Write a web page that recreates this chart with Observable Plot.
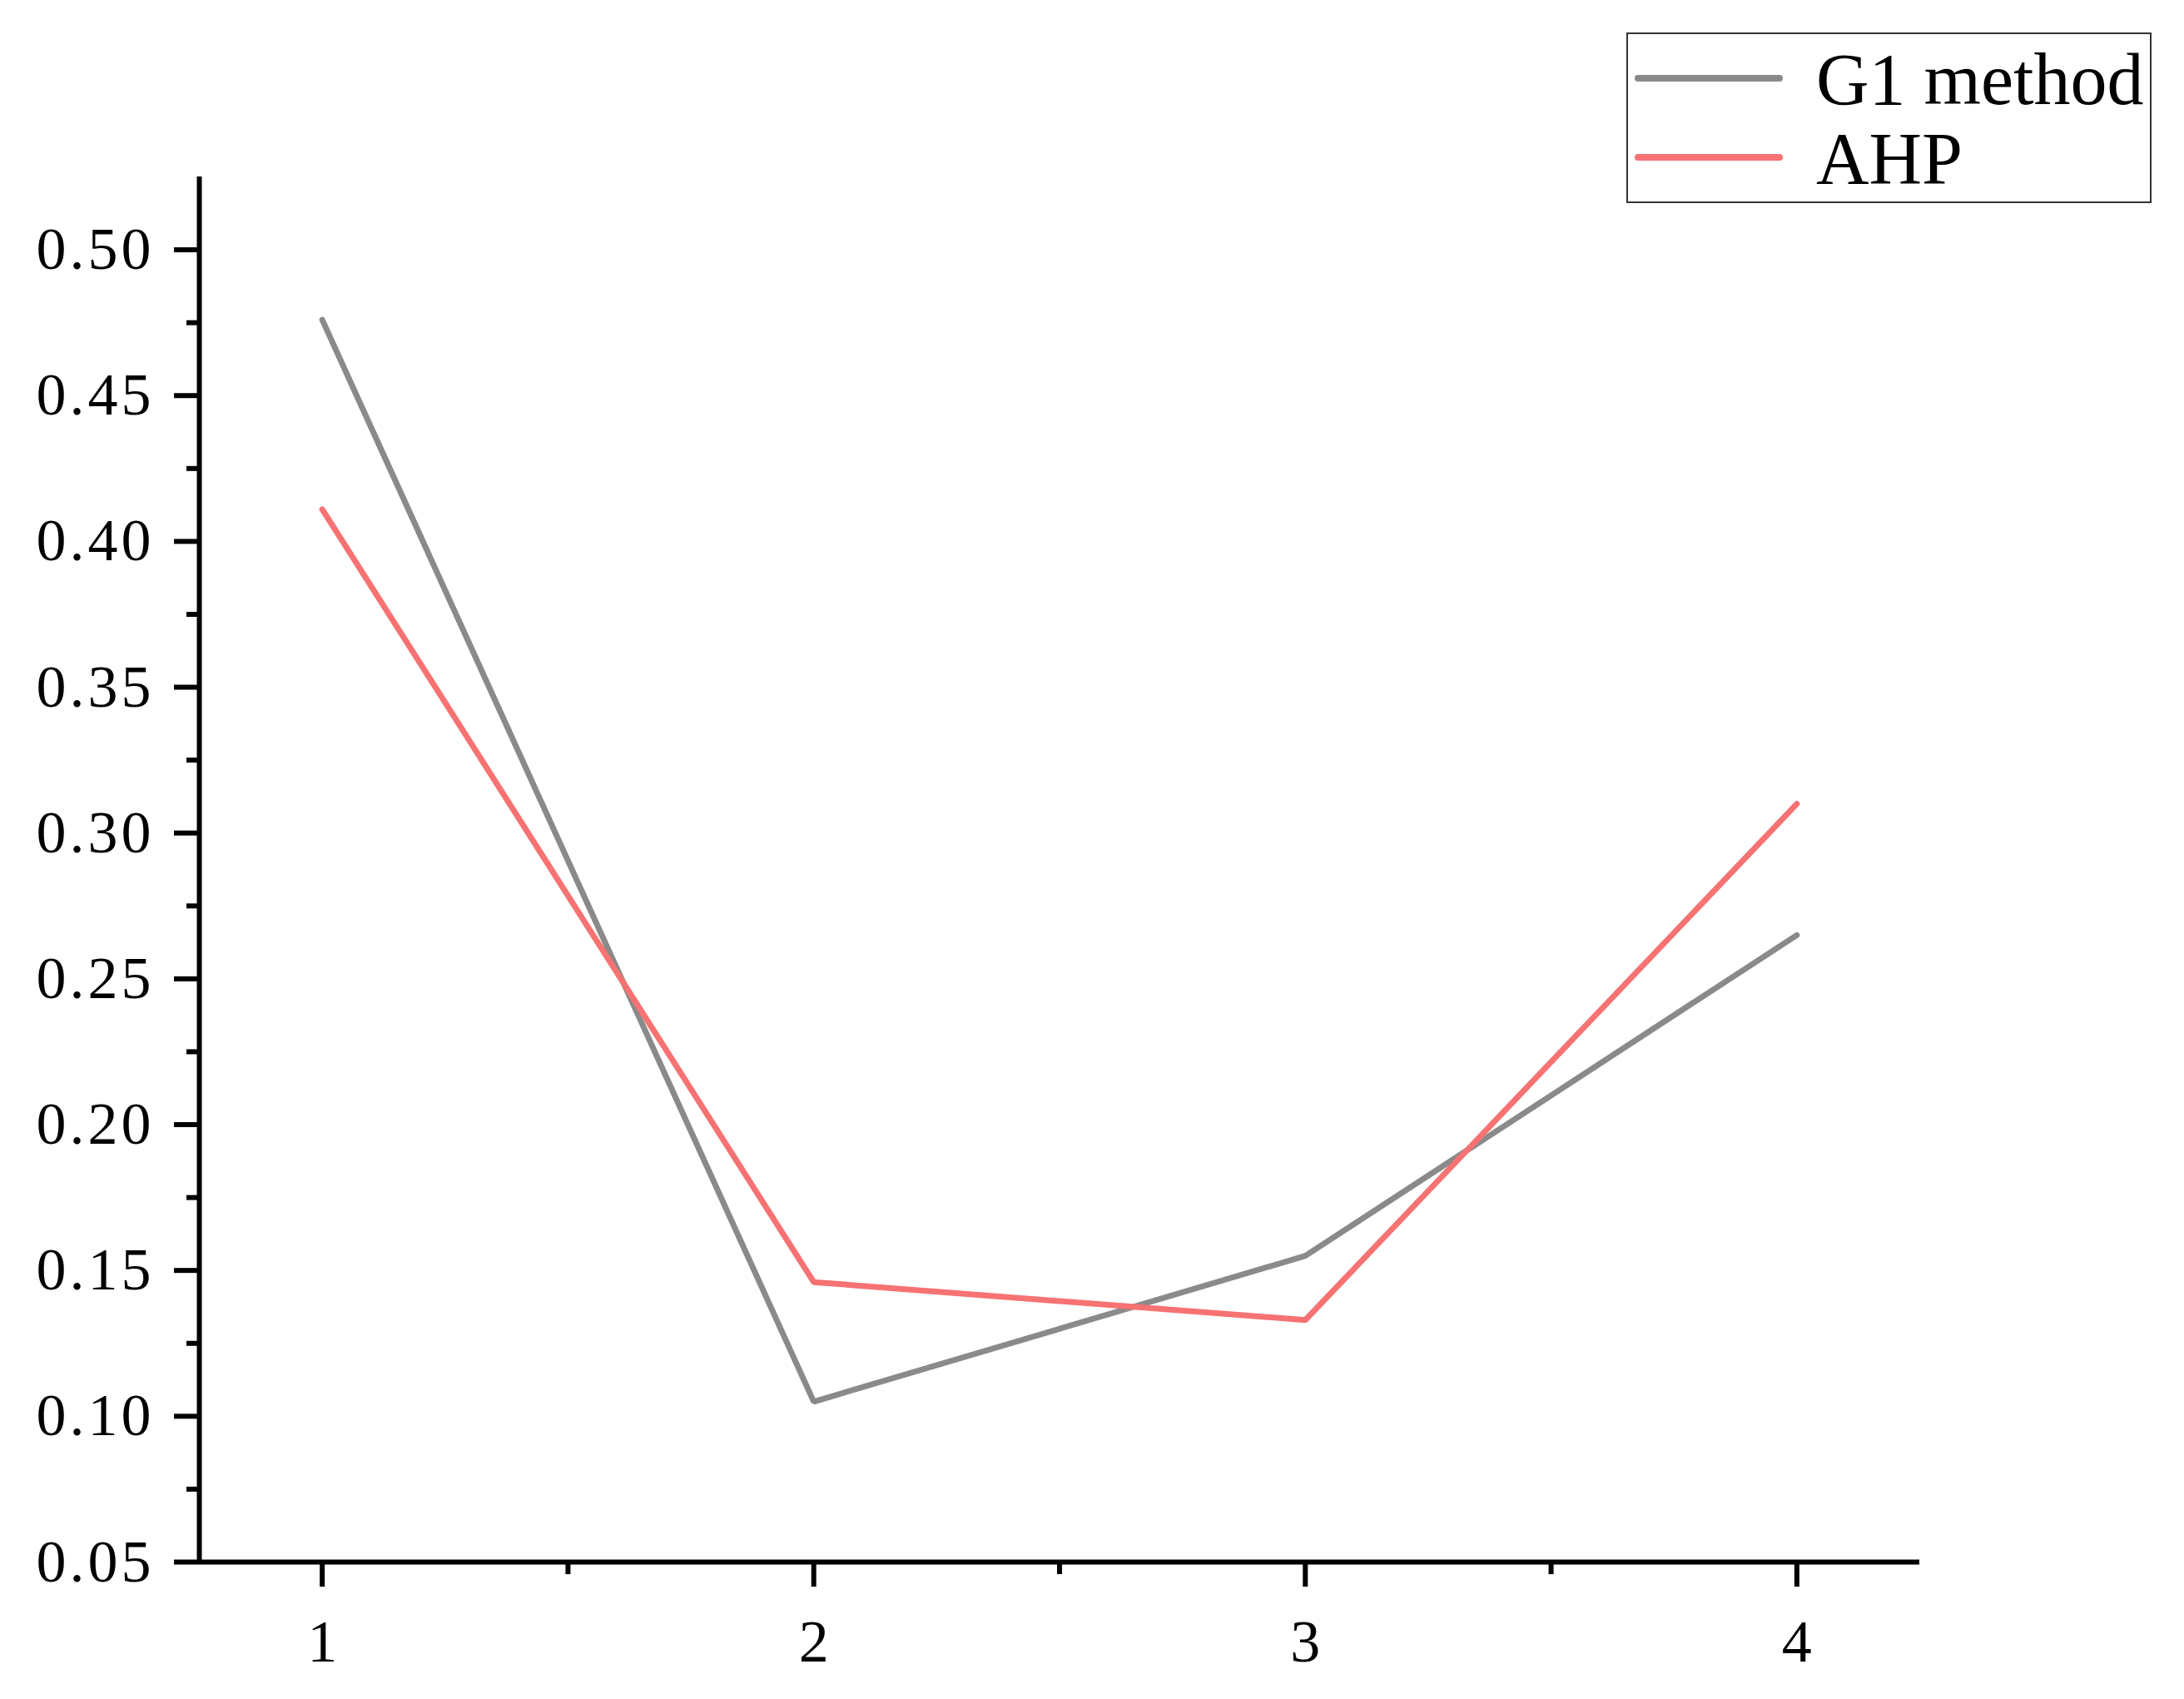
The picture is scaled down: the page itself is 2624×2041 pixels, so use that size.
<!DOCTYPE html>
<html>
<head>
<meta charset="utf-8">
<script src="https://cdn.jsdelivr.net/npm/d3@7"></script>
<script src="https://cdn.jsdelivr.net/npm/@observablehq/plot@0.6"></script>
<style>
  html, body { margin: 0; padding: 0; background: #fff; }
  #wrap { position: relative; width: 2624px; height: 2041px; }
  #chart svg text { font-family: "Liberation Serif", serif; }
  .ticklab text { letter-spacing: 4px; }
  #legend { position: absolute; left: 0; top: 0; pointer-events: none; }
  #legend text { font-family: "Liberation Serif", serif; font-size: 88px; fill: #000; }
</style>
</head>
<body>
<div id="wrap">
  <div id="chart"></div>
  <svg id="legend" width="2624" height="300"></svg>
</div>
<script>
// ---- data ----
const categories = [1, 2, 3, 4];
const seriesNames = ["G1 method", "AHP"];
const g1Values = [0.476, 0.105, 0.155, 0.265];
const ahpValues = [0.411, 0.146, 0.133, 0.310];
const colors = ["#8a8a8a", "#f77272"];
const yMajorTicks = [0.05, 0.10, 0.15, 0.20, 0.25, 0.30, 0.35, 0.40, 0.45, 0.50];
const yMinorTicks = [0.075, 0.125, 0.175, 0.225, 0.275, 0.325, 0.375, 0.425, 0.475];
const xMajorTicks = [1, 2, 3, 4];
const xMinorTicks = [1.5, 2.5, 3.5];

const rows = [];
categories.forEach((c, i) => {
  rows.push({x: c, y: g1Values[i], s: seriesNames[0]});
});
categories.forEach((c, i) => {
  rows.push({x: c, y: ahpValues[i], s: seriesNames[1]});
});

const chart = Plot.plot({
  width: 2624,
  height: 2041,
  marginLeft: 239,
  marginRight: 318,
  marginTop: 212,
  marginBottom: 165,
  x: {domain: [0.75, 4.25]},
  y: {domain: [0.05, 0.525]},
  color: {domain: seriesNames, range: colors},
  style: {background: "#fff", color: "#000"},
  marks: [
    Plot.line(rows, {x: "x", y: "y", stroke: "s", z: "s", strokeWidth: 7, strokeLinejoin: "miter", strokeLinecap: "round"}),
    Plot.axisY({ticks: yMajorTicks, tickSize: 30, tickPadding: 24, strokeWidth: 6, stroke: "#000",
      fontSize: 72, tickFormat: d => d3.format(".2f")(d), label: null, className: "ticklab"}),
    Plot.axisY({ticks: yMinorTicks, tickSize: 15, strokeWidth: 6, stroke: "#000", text: null, label: null}),
    Plot.axisX({ticks: xMajorTicks, tickSize: 30, tickPadding: 38, strokeWidth: 6, stroke: "#000",
      fontSize: 72, tickFormat: d => String(d), label: null}),
    Plot.axisX({ticks: xMinorTicks, tickSize: 15, strokeWidth: 6, stroke: "#000", text: null, label: null}),
    Plot.ruleX([0.75], {stroke: "#000", strokeWidth: 6}),
    Plot.ruleY([0.05], {stroke: "#000", strokeWidth: 6})
  ]
});
document.getElementById("chart").appendChild(chart);

// ---- legend ----
const leg = d3.select("#legend");
leg.append("rect").attr("x", 1955).attr("y", 40).attr("width", 629).attr("height", 203)
  .attr("fill", "#fff").attr("stroke", "#333").attr("stroke-width", 2);
seriesNames.forEach((name, i) => {
  const cy = 94 + i * 95;
  leg.append("line").attr("x1", 1968).attr("x2", 2138).attr("y1", cy).attr("y2", cy)
    .attr("stroke", colors[i]).attr("stroke-width", 8).attr("stroke-linecap", "round");
  leg.append("text").attr("x", 2182).attr("y", cy + 31).text(name);
});
</script>
</body>
</html>
